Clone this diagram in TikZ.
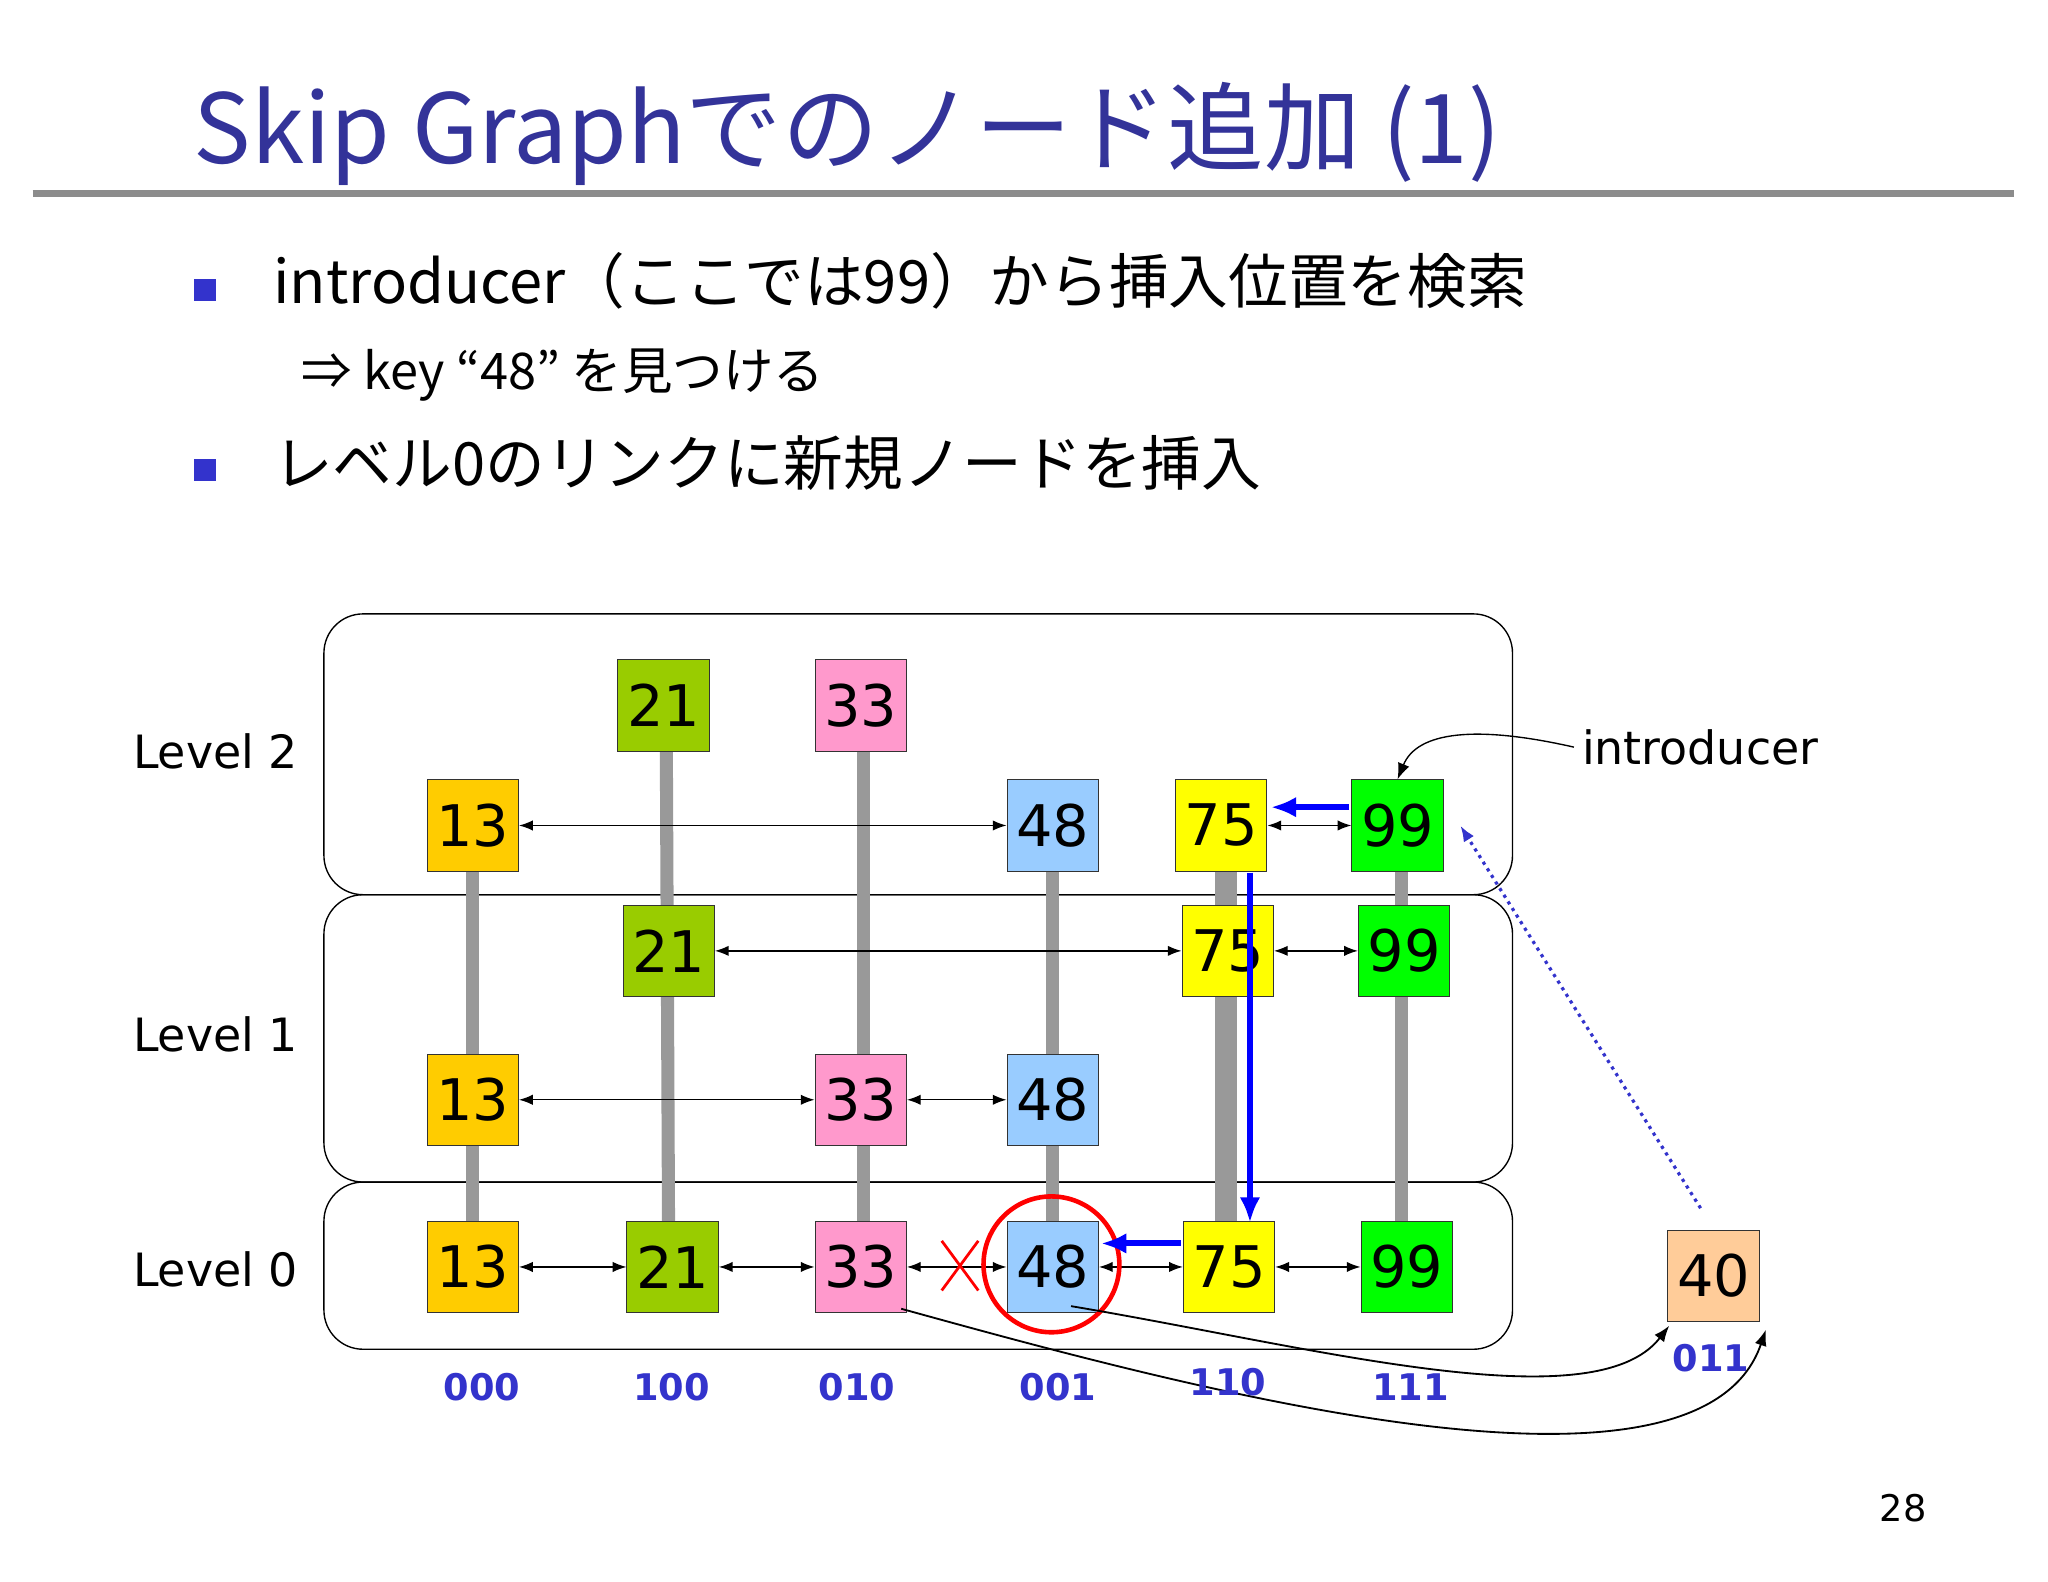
\documentclass[tikz,border=0pt]{standalone}
\usepackage{fontspec}
\setmainfont{DejaVu Sans}
\newfontfamily\jp{Noto Sans CJK JP}
\usetikzlibrary{arrows.meta}
\definecolor{tblue}{RGB}{51,51,153}
\definecolor{lblue}{RGB}{51,51,204}
\definecolor{c13}{HTML}{FFCC00}
\definecolor{c21}{HTML}{99CC00}
\definecolor{c33}{HTML}{FF99CC}
\definecolor{c48}{HTML}{99CCFF}
\definecolor{c75}{HTML}{FFFF00}
\definecolor{c99}{HTML}{00FF00}
\definecolor{c40}{HTML}{FFCC99}
\begin{document}
\begin{tikzpicture}[x=0.02cm,y=-0.02cm,
 nd/.style={draw=black!80,minimum width=70*0.02cm,minimum height=70*0.02cm,inner sep=0pt,font=\fontsize{25}{25}\selectfont},
 lv/.style={draw,rounded corners=0.6cm,line width=0.6pt},
 bar/.style={line width=10*0.02cm,draw=black!40},
 la/.style={{Latex[length=6pt]}-{Latex[length=6pt]},line width=0.6pt},
 ba/.style={-{Latex[length=11pt,width=9pt]},draw=blue,line width=2.6pt},
 bin/.style={text=lblue,font=\bfseries\fontsize{16}{16}\selectfont},
 lvl/.style={font=\fontsize{20}{20}\selectfont}]
\useasboundingbox (0,0) rectangle (1568,1211);
% title
\node[anchor=base west,text=tblue,font=\jp\fontsize{42}{42}\selectfont] (title) at (142,125) {Skip Graphでのノード追加 (1)};
\draw[line width=5*0.02cm,draw=black!45] (25,148) -- (1542,148);
\node[fill=lblue,minimum size=17*0.02cm,inner sep=0pt] (b1) at (157,222) {};
\node[fill=lblue,minimum size=17*0.02cm,inner sep=0pt] (b2) at (157,360) {};
\node[anchor=base west,font=\jp\fontsize{26}{26}\selectfont] (t1) at (203,232) {introducer（ここでは99）から挿入位置を検索};
\node[anchor=base west,font=\jp\fontsize{22}{22}\selectfont] (t2) at (225,298) {⇒ key “48” を見つける};
\node[anchor=base west,font=\jp\fontsize{26}{26}\selectfont] (t3) at (203,372) {レベル0のリンクに新規ノードを挿入};
% level boxes
\draw[lv] (248,470) rectangle (1158,685);
\draw[lv] (248,685) rectangle (1158,905);
\draw[lv] (248,905) rectangle (1158,1033);
% bars
\draw[bar] (362,632) -- (362,970);
\draw[bar] (510,540) -- (512,970);
\draw[bar] (661,540) -- (661,970);
\draw[bar] (806,632) -- (806,970);
\draw[bar] (935,632) -- (935,970);
\draw[bar] (942,632) -- (942,970);
\draw[bar] (1073,632) -- (1073,970);
% nodes
\node[nd,fill=c21] (a21) at (508,540) {21};
\node[nd,fill=c33] (a33) at (659,540) {33};
\node[nd,fill=c13] (a13) at (362,632) {13};
\node[nd,fill=c48] (a48) at (806,632) {48};
\node[nd,fill=c75] (a75) at (935,632) {75};
\node[nd,fill=c99] (a99) at (1070,632) {99};
\node[nd,fill=c21] (b21) at (512,728) {21};
\node[nd,fill=c75] (b75) at (940,728) {75};
\node[nd,fill=c99] (b99) at (1075,728) {99};
\node[nd,fill=c13] (b13) at (362,842) {13};
\node[nd,fill=c33] (b33) at (659,842) {33};
\node[nd,fill=c48] (b48) at (806,842) {48};
\node[nd,fill=c13] (c13n) at (362,970) {13};
\node[nd,fill=c21] (c21n) at (515,970) {21};
\node[nd,fill=c33] (c33n) at (659,970) {33};
\node[nd,fill=c48] (c48n) at (806,970) {48};
\node[nd,fill=c75] (c75n) at (941,970) {75};
\node[nd,fill=c99] (c99n) at (1077,970) {99};
\node[nd,fill=c40] (n40) at (1312,977) {40};
% links
\draw[la] (a13) -- (a48);
\draw[la] (a75) -- (a99);
\draw[la] (b21) -- (b75);
\draw[la] (b75) -- (b99);
\draw[la] (b13) -- (b33);
\draw[la] (b33) -- (b48);
\draw[la] (c13n) -- (c21n);
\draw[la] (c21n) -- (c33n);
\draw[la] (c33n) -- (c48n);
\draw[la] (c48n) -- (c75n);
\draw[la] (c75n) -- (c99n);
\draw[red,line width=1.2pt] (721,950) -- (749,988) (749,950) -- (721,988);
\draw[red,line width=2pt] (805,968) circle (52);
% search path
\draw[ba] (1033,618) -- (973,618);
\draw[ba] (957,668) -- (957,936);
\draw[ba] (904,952) -- (843,952);
% introducer
\node[anchor=west,font=\fontsize{20}{20}\selectfont] (intro) at (1205,572) {introducer};
\draw[-{Latex[length=7pt]},line width=0.6pt] (intro.west) .. controls (1130,555) and (1085,560) .. (a99.north);
\draw[-{Latex[length=7pt]},draw=lblue,dotted,line width=1.4pt] (1302,925) -- (1118,632);
% curves to 40
\draw[-{Latex[length=7pt]},line width=0.8pt] (820,1000) .. controls (1000,1030) and (1220,1090) .. (1278,1015);
\draw[-{Latex[length=7pt]},line width=0.8pt] (690,1002) .. controls (900,1060) and (1300,1170) .. (1352,1018);
% labels
\node[bin] (l0) at (369,1062) {000};
\node[bin] (l1) at (514,1062) {100};
\node[bin] (l2) at (656,1062) {010};
\node[bin] (l3) at (810,1062) {001};
\node[bin] (l4) at (940,1058) {110};
\node[bin] (l5) at (1080,1062) {111};
\node[bin] (l6) at (1310,1040) {011};
\node[lvl] (L2) at (165,575) {Level 2};
\node[lvl] (L1) at (165,792) {Level 1};
\node[lvl] (L0) at (165,972) {Level 0};
\node[font=\fontsize{16}{16}\selectfont] (pg) at (1457,1155) {28};
\end{tikzpicture}
\end{document}
